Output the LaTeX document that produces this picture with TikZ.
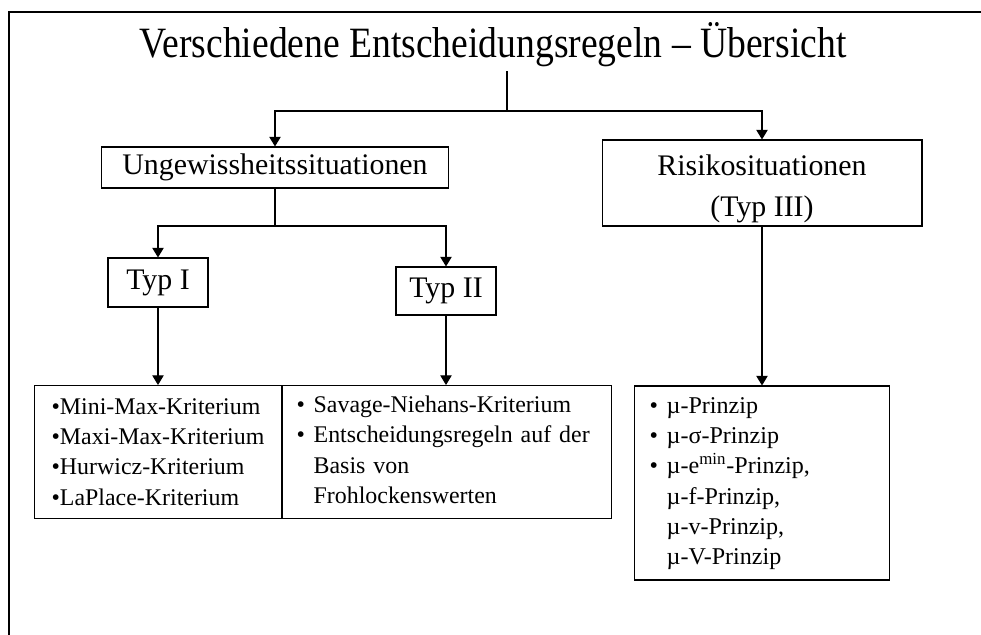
\documentclass[tikz,border=0pt]{standalone}
\usepackage{graphicx}
\usepackage{fontspec}
\setmainfont{Liberation Serif}
\usetikzlibrary{positioning,arrows.meta}

\begin{document}
\begin{tikzpicture}[x=0.02cm, y=-0.02cm,
    every node/.style={font=\fontsize{17}{22.8}\selectfont},
    frame/.style={line width=1.1pt},
    conn/.style={line width=0.6pt},
    box/.style={draw, line width=0.6pt, inner sep=0pt, align=center},
    head/.style={font=\fontsize{21.4}{26}\selectfont, inner sep=2pt},
    list/.style={box, minimum height=2.66cm, align=left,
                 font=\fontsize{13.6}{17.2}\selectfont},
    arr/.style={-{Triangle[length=5.5pt, width=6.5pt]}, line width=0.6pt}]
  \useasboundingbox (0,0) rectangle (981,635);
  \draw[frame] (9,636) -- (9,12) -- (982,12);
  \node[head, anchor=base] (title) at (493,58)
       {\scalebox{1}[1.15]{Verschiedene Entscheidungsregeln – Übersicht}};
  \coordinate (split) at (507,111);
  \node[box, minimum width=6.96cm, minimum height=0.82cm] (unge) at (275,167.5) {Ungewissheitssituationen};
  \node[box, minimum width=6.4cm, minimum height=1.72cm]  (risk) at (762,183)
       {\rule{0pt}{18.5pt}Risikosituationen\\(Typ III)};
  \coordinate (usplit) at (275,226);
  \node[box, minimum width=2cm, minimum height=0.98cm] (typ1) at (158,282.5) {Typ I};
  \node[box, minimum width=2cm, minimum height=0.96cm] (typ2) at (446,291)   {Typ II};
  \node[list, minimum width=4.94cm, anchor=north west] (kritA) at (34,385)
        {•Mini-Max-Kriterium\\•Maxi-Max-Kriterium\\•Hurwicz-Kriterium\\•LaPlace-Kriterium};
  \node[list, minimum width=6.58cm, text width=6.02cm, inner xsep=0.28cm,
        right=0pt of kritA] (kritB)
        {\begin{tabular}{@{}l@{\hspace{5pt}}l@{}}
           • & Savage-Niehans-Kriterium\\
           • & Entscheidungsregeln auf der\\
             & Basis von\\
             & Frohlockenswerten
         \end{tabular}};
  \node[list, minimum width=5.1cm, minimum height=3.88cm, text width=4.5cm,
        inner xsep=0.3cm, font=\fontsize{13.7}{17.2}\selectfont,
        below=3.18cm of risk] (prinz)
        {\begin{tabular}{@{}l@{\hspace{5pt}}l@{}}
           • & µ-Prinzip\\
           • & µ-σ-Prinzip\\
           • & µ-e\textsuperscript{min}-Prinzip,\\
             & µ-f-Prinzip,\\
             & µ-v-Prinzip,\\
             & µ-V-Prinzip
         \end{tabular}};
  \draw[conn] (title.south -| split) -- (split);
  \draw[arr] (split) -| (unge.north);
  \draw[arr] (split) -| (risk.north);
  \draw[conn] (unge.south) -- (usplit);
  \draw[arr] (usplit) -| (typ1.north);
  \draw[arr] (usplit) -| (typ2.north);
  \draw[arr] (typ1.south) -- (typ1.south |- kritA.north);
  \draw[arr] (typ2.south) -- (typ2.south |- kritB.north);
  \draw[arr] (risk.south) -- (prinz.north);
\end{tikzpicture}
\end{document}
